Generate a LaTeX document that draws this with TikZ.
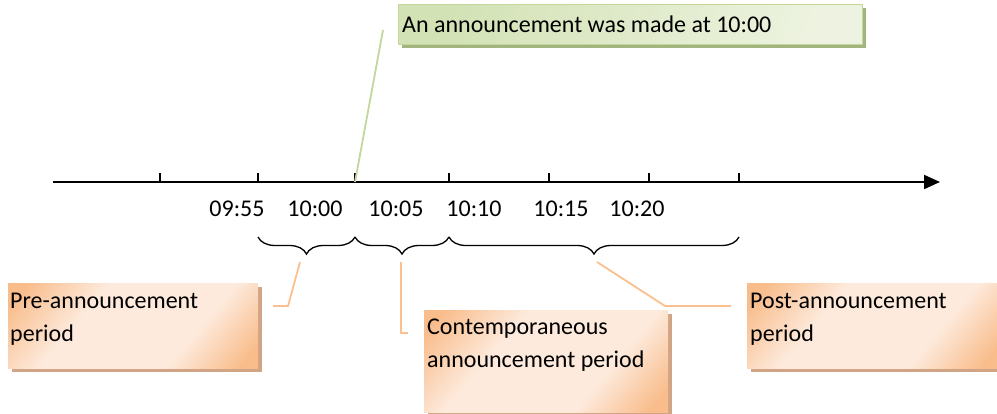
\documentclass[tikz,border=0pt]{standalone}
\usepackage{fontspec}
\setmainfont{Carlito}
\usetikzlibrary{arrows.meta,decorations.pathreplacing,shadows}
\definecolor{orDark}{HTML}{F9BD8C}
\definecolor{orLight}{HTML}{FDEADC}
\definecolor{orShadow}{HTML}{D0A485}
\definecolor{orLine}{HTML}{FAC090}
\definecolor{grDark}{HTML}{D3E2B5}
\definecolor{grLight}{HTML}{EDF3E0}
\definecolor{grShadow}{HTML}{A3B57E}
\definecolor{grLine}{HTML}{C3D69B}
% soft light band across the middle, darker towards two opposite corners
\pgfdeclareverticalshading{orangeband}{100bp}{%
  color(0bp)=(orDark); color(19bp)=(orDark); color(35bp)=(orLight);
  color(63bp)=(orLight); color(81bp)=(orDark); color(100bp)=(orDark)}
\tikzset{
  lbl/.style={font=\fontsize{24}{33}\selectfont, inner sep=0pt},
  boxtext/.style={lbl, anchor=north west, align=left},
  tickmark/.style={line width=1.4pt},
  bracemark/.style={line width=1.3pt, decorate,
    decoration={brace, mirror, amplitude=17pt}},
  orangebox/.style={draw=none, inner sep=0pt, anchor=north west,
    shading=orangeband, shading angle=50,
    drop shadow={shadow xshift=4pt, shadow yshift=-4pt, fill=orShadow, opacity=1}},
  greenbox/.style={draw=grLine, line width=0.6pt, inner sep=0pt, anchor=north west,
    left color=grDark, right color=grLight, shading angle=70,
    drop shadow={shadow xshift=4pt, shadow yshift=-4pt, fill=grShadow, opacity=1}},
  orlink/.style={draw=orLine, line width=1.8pt},
  grlink/.style={draw=grLine, line width=1.8pt},
}
\begin{document}
\begin{tikzpicture}[x=1pt, y=-1pt]
\useasboundingbox (0,0) rectangle (997,414);

% time axis
\coordinate (axL) at (53,182);
\coordinate (axR) at (940,182);
\draw[line width=2pt, -{Triangle[length=16pt, width=14pt]}] (axL) -- (axR);

% tick marks
\foreach \name/\x in {t0/160, t1/258, t2/355, t3/449, t4/549, t5/649, t6/739} {
  \coordinate (\name) at (\x,182);
  \draw[tickmark] (\name) -- ++(0,-9);
}

% tick labels
\node[lbl, anchor=base] (l0955) at (237,217) {09:55};
\node[lbl, anchor=base] (l1000) at (315,217) {10:00};
\node[lbl, anchor=base] (l1005) at (396,217) {10:05};
\node[lbl, anchor=base] (l1010) at (474,217) {10:10};
\node[lbl, anchor=base] (l1015) at (561,217) {10:15};
\node[lbl, anchor=base] (l1020) at (637,217) {10:20};

% period braces
\coordinate (b1) at (258,237);
\coordinate (b2) at (355,237);
\coordinate (b3) at (449,237);
\coordinate (b4) at (739,237);
\draw[bracemark] (b1) -- (b2);
\draw[bracemark] (b2) -- (b3);
\draw[bracemark] (b3) -- (b4);
\coordinate (tipPre) at (300,262);
\coordinate (tipCon) at (401,262);
\coordinate (tipPost) at (597,262);

% announcement callout
\node[greenbox, minimum width=464pt, minimum height=40pt] (annBox) at (398,4) {};
\node[lbl, anchor=base west] (annText) at (402,33) {An announcement was made at 10:00};
\draw[grlink] (t2) -- (383,30);

% period boxes
\node[orangebox, minimum width=250pt, minimum height=85pt] (preBox) at (8,283) {};
\node[boxtext] (preText) at (10,284.9) {\strut Pre-announcement\\period};

\node[orangebox, minimum width=244pt, minimum height=102pt] (conBox) at (424,310) {};
\node[boxtext] (conText) at (427,310.9) {\strut Contemporaneous\\announcement period};

\node[orangebox, minimum width=253pt, minimum height=85pt] (postBox) at (747,283) {};
\node[boxtext] (postText) at (750,284.9) {\strut Post-announcement\\period};

% callout leaders
\draw[orlink] (tipPre) -- (288,306) -- (273,306);
\draw[orlink] (tipCon) -- (401,333) -- (408,333);
\draw[orlink] (tipPost) -- (665,306) -- (731,306);
\end{tikzpicture}
\end{document}
